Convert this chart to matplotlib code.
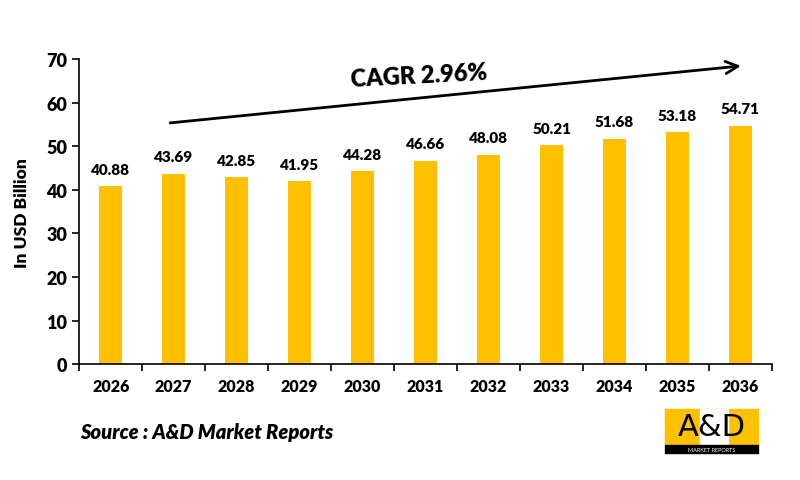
import matplotlib.pyplot as plt
from matplotlib.patches import Rectangle

years = ['2026', '2027', '2028', '2029', '2030', '2031', '2032', '2033', '2034', '2035', '2036']
values = [40.88, 43.69, 42.85, 41.95, 44.28, 46.66, 48.08, 50.21, 51.68, 53.18, 54.71]

plt.rcParams['font.family'] = ['Lato', 'DejaVu Sans']

fig = plt.figure(figsize=(8, 4.81), dpi=100)
ax = fig.add_axes([0.099, 0.241, 0.866, 0.634])

x = list(range(len(years)))
ax.bar(x, values, width=0.37, color='#FFC000')
for xi, v in zip(x, values):
    ax.text(xi, v + 2.4, f'{v:.2f}', ha='center', va='bottom', fontsize=11, fontweight='heavy')

ax.set_xlim(-0.5, len(years) - 0.5)
ax.set_ylim(0, 70)
ax.set_yticks(range(0, 71, 10))
ax.set_xticks(x)
ax.set_xticklabels(years, fontsize=11.5, fontweight='heavy')
ax.tick_params(axis='x', length=0, pad=10)
ax.tick_params(axis='y', labelsize=13, width=1.2, length=5)
for lbl in ax.get_yticklabels():
    lbl.set_fontweight('heavy')
# category boundary ticks
ax.set_xticks([i - 0.5 for i in range(len(years) + 1)], minor=True)
ax.tick_params(axis='x', which='minor', length=5, width=1.2, direction='out')

ax.spines['top'].set_visible(False)
ax.spines['right'].set_visible(False)
ax.spines['left'].set_linewidth(1.2)
ax.spines['bottom'].set_linewidth(1.2)
ax.set_ylabel('In USD Billion', fontsize=12.5, fontweight='heavy', labelpad=12)

# CAGR arrow
ax.annotate('', xy=(10.05, 68.5), xytext=(0.9, 55.3),
            arrowprops=dict(arrowstyle='->', color='black', lw=2, mutation_scale=22))
ax.text(4.9, 66.3, 'CAGR 2.96%', ha='center', va='center', fontsize=17, fontweight='heavy', rotation=3)

fig.text(0.1, 0.1, 'Source : A&D Market Reports', fontsize=14.5, fontweight='heavy',
         fontstyle='italic', ha='left', va='center')

# logo
fig.patches.append(Rectangle((665 / 800, 1 - 446 / 481), 93 / 800, 36 / 481,
                             transform=fig.transFigure, color='#FFC000'))
fig.patches.append(Rectangle((700 / 800, 1 - 446 / 481), 28 / 800, 36 / 481,
                             transform=fig.transFigure, color='white'))
fig.patches.append(Rectangle((665 / 800, 1 - 454 / 481), 93 / 800, 8 / 481,
                             transform=fig.transFigure, color='black'))
fig.text(711.5 / 800, 1 - 428 / 481, 'A&D', fontsize=22, ha='center', va='center',
         family=['DejaVu Sans'])
fig.text(711.5 / 800, 1 - 450 / 481, 'MARKET REPORTS', fontsize=4, color='white',
         ha='center', va='center')

fig.savefig('out.png', dpi=100)
